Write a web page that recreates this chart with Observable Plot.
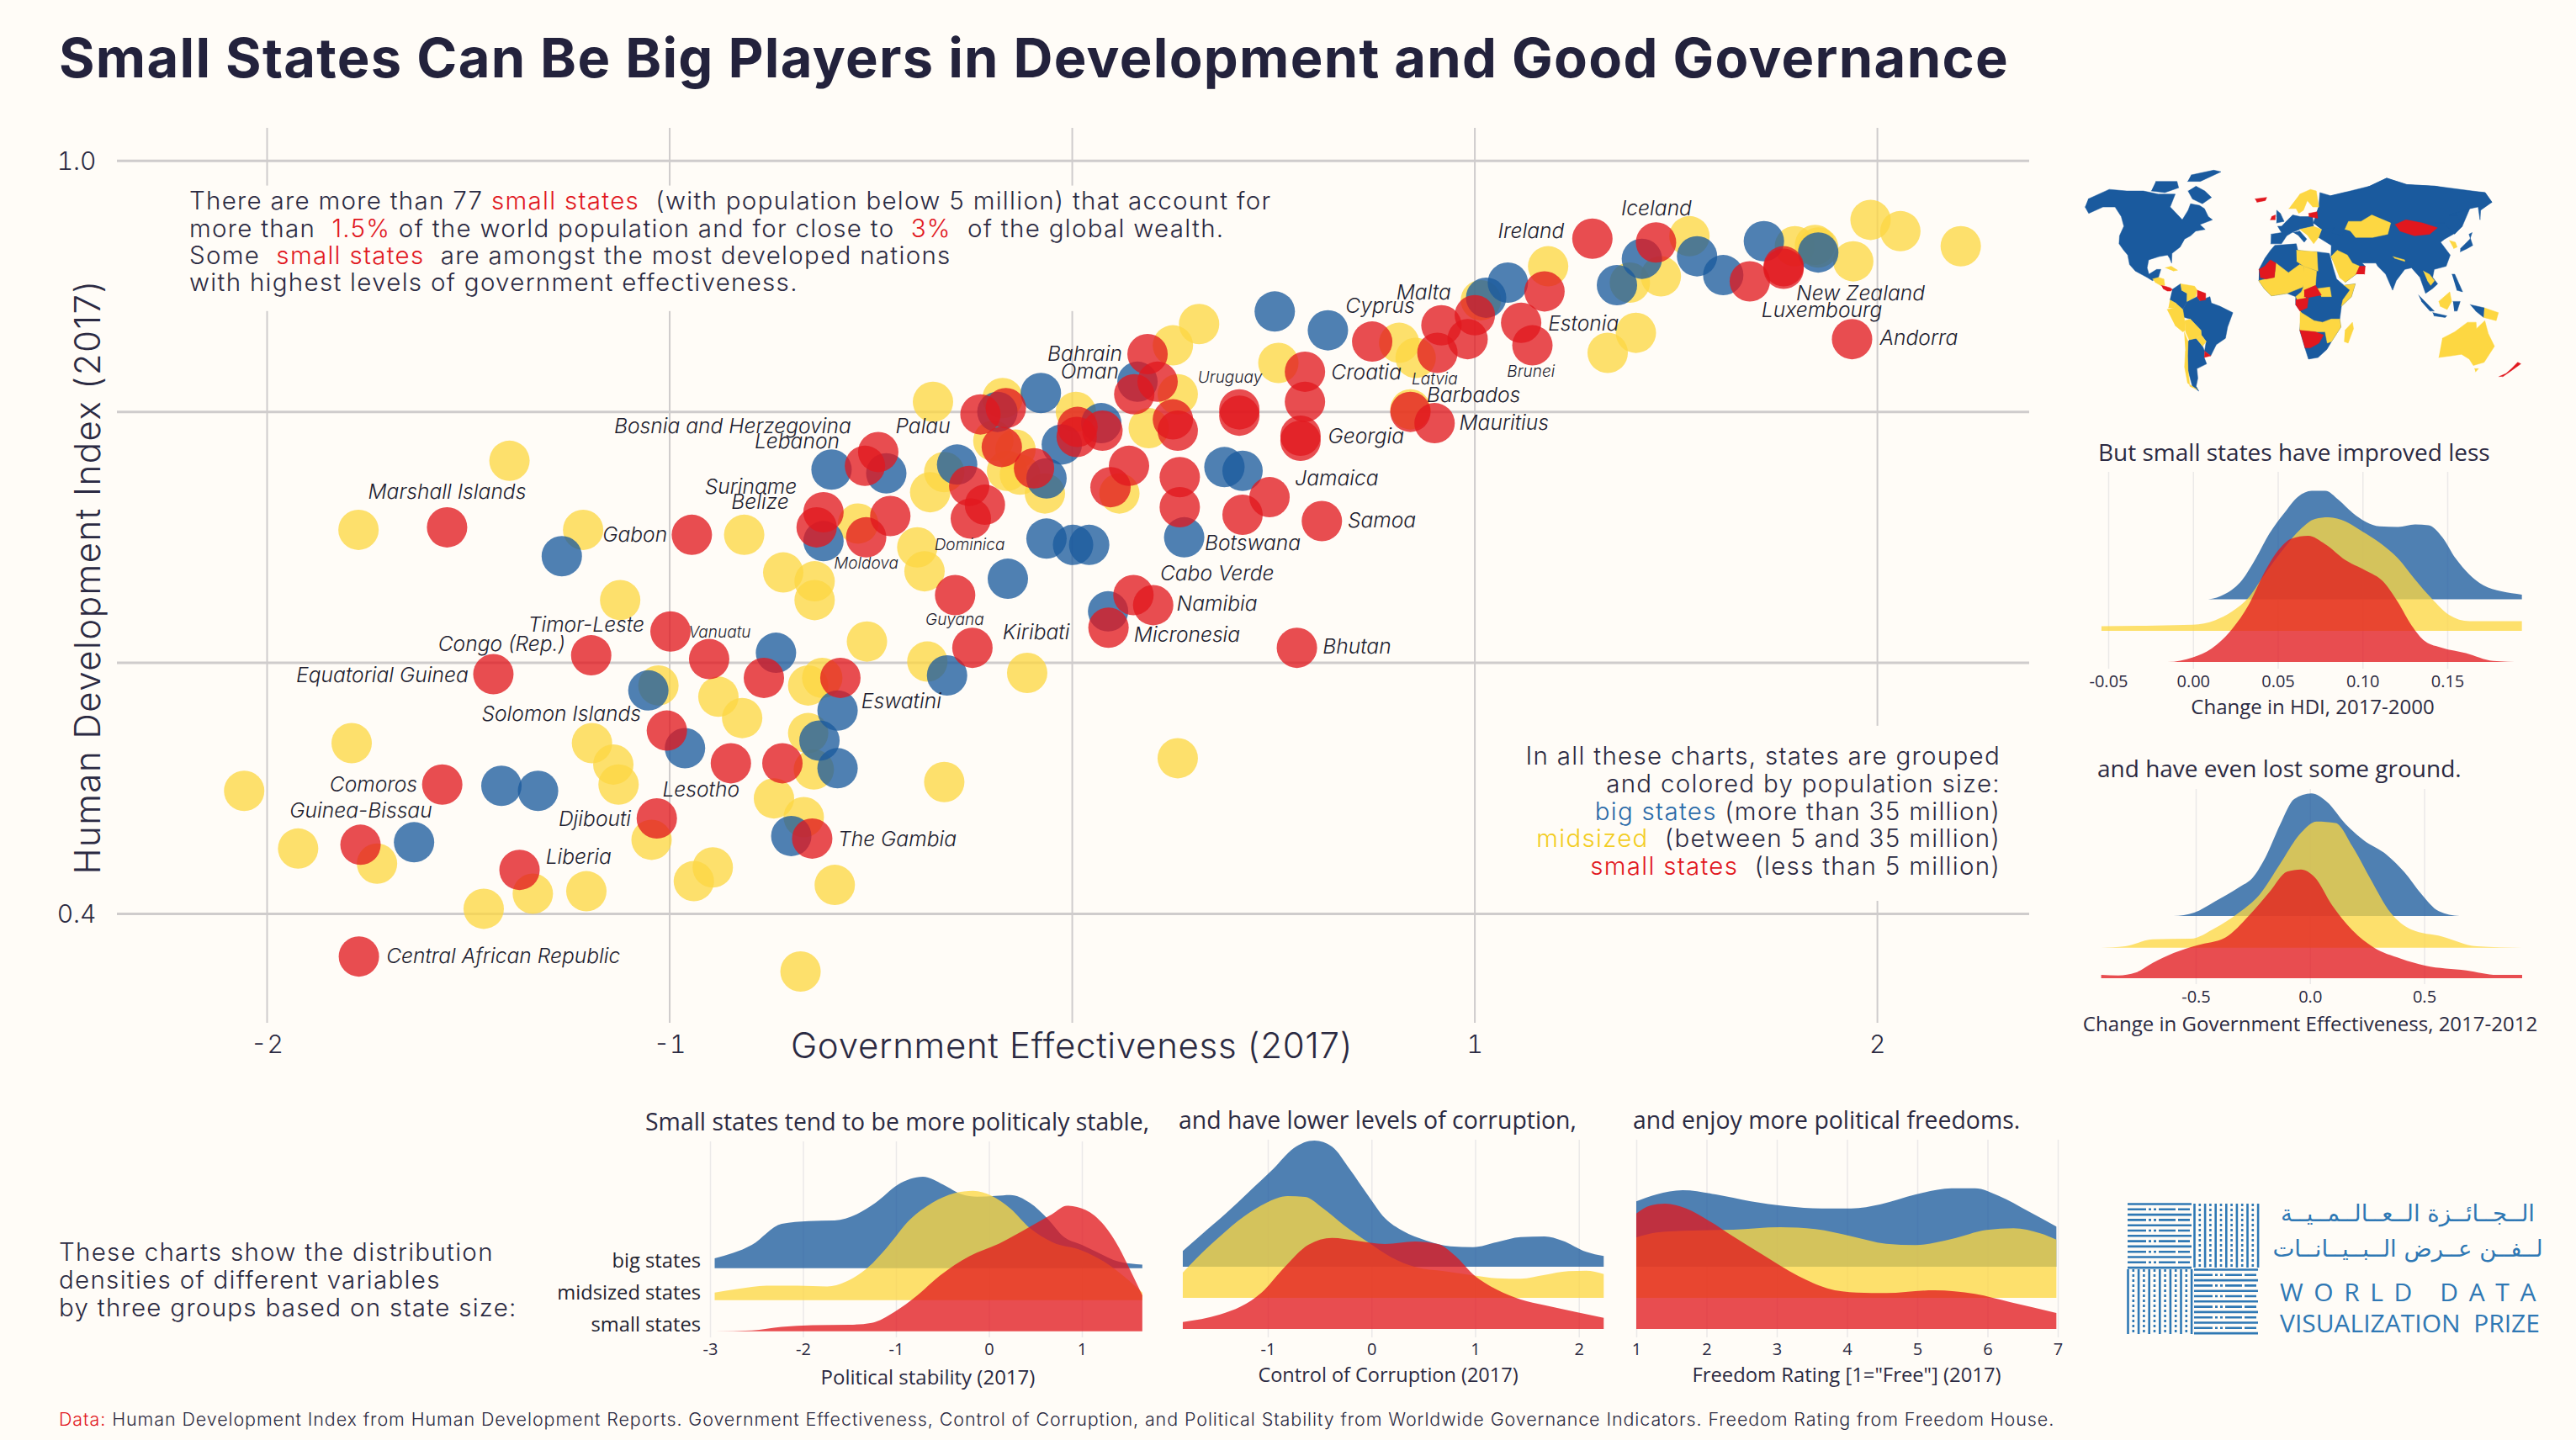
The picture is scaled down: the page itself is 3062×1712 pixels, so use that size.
<!DOCTYPE html>
<html><head><meta charset="utf-8">
<script src="https://cdn.jsdelivr.net/npm/d3@7"></script>
<script src="https://cdn.jsdelivr.net/npm/@observablehq/plot@0.6"></script>
<style>
html,body{margin:0;padding:0;background:#fffcf7;}
#page{position:relative;width:3062px;height:1712px;overflow:hidden;background:#fffcf7;}
.t{position:absolute;white-space:pre;line-height:1;}
.p{position:absolute;}
svg{overflow:visible;}
</style></head><body><div id="page"></div>
<script>
// ---------- Scatter values: Government Effectiveness (x), HDI (y) ----------
const midX=[-1.398,-1.773,-1.215,-.815,-.718,-.532,-.385,-.367,-.346,-.173,-.196,-.141,-.162,-.130,-.318,-.353,-.068,.009,.190,.117,-.64,-.64,-.510,-.360,-.879,-.820,-.656,-.621,-.656,-.642,-.741,-.667,-.318,-1.123,-1.028,-1.790,-1.193,-1.140,-1.127,-2.057,-1.923,-1.727,-1.045,-.893,-.940,-1.340,-1.207,-1.462,-.590,-.675,-.112,1.983,2.057,2.207,1.940,1.795,1.845,1.853,1.533,1.462,1.385,1.182,1.400,1.330,.812,.853,.315,.250,.512,.262,.840,1.015,.262];
const midY=[.761,.706,.706,.702,.672,.711,.692,.673,.808,.811,.777,.770,.753,.750,.752,.736,.735,.800,.787,.735,.665,.650,.617,.601,.573,.556,.582,.588,.544,.515,.492,.477,.505,.650,.582,.536,.536,.519,.503,.498,.452,.440,.459,.437,.426,.416,.418,.404,.423,.354,.592,.953,.944,.932,.920,.932,.933,.931,.940,.908,.903,.916,.863,.847,.855,.843,.870,.853,.839,.814,.802,.889,.524];
const bigX=[-1.268,-.598,-.462,-.618,-.186,-.286,-.078,-.026,.072,-.064,.162,-.064,.002,.042,-.160,.089,-.736,-.583,-.628,-.583,-.311,-.698,-1.053,-.962,-1.418,-1.327,-1.635,1.718,1.415,1.552,1.617,1.353,1.853,1.082,1.028,.503,.635,.378,.423,.278];
const bigY=[.685,.754,.751,.697,.800,.758,.815,.774,.791,.747,.824,.699,.694,.694,.667,.641,.608,.562,.538,.516,.590,.462,.578,.532,.502,.498,.457,.936,.922,.924,.909,.901,.927,.903,.891,.880,.865,.756,.753,.700];
const smallX=[-1.553,-.945,-.482,-.515,-.618,-.635,-.452,-.512,-.228,-.165,-.175,.013,.011,.075,.154,.141,.095,-.256,-.217,-.252,-.291,-.095,.152,.201,-.576,-.766,-.848,-.720,-.646,-.902,-.998,-1.195,-1.438,-.248,-1.007,-1.565,-1.032,-1.768,-1.373,-1.772,1.292,1.450,1.683,1.767,1.767,1.937,1.173,1.115,1.143,1.000,.982,.917,.907,.745,.187,.578,.578,.567,.567,.415,.415,.262,.250,.212,.840,.900,.267,.267,.423,.490,.620,.090,.558];
const smallY=[.708,.702,.768,.757,.720,.708,.717,.700,.798,.803,.772,.788,.780,.785,.814,.757,.740,.741,.726,.715,.654,.755,.654,.646,.588,.588,.520,.520,.460,.603,.625,.606,.591,.612,.546,.503,.476,.455,.435,.366,.938,.935,.904,.916,.914,.858,.896,.871,.853,.877,.858,.869,.847,.856,.846,.832,.808,.781,.777,.802,.797,.785,.794,.824,.800,.791,.748,.724,.718,.732,.713,.628,.612];
// ---------- Scatter labels ----------
const labelNames=["Iceland","Ireland","Malta","Cyprus","New Zealand","Luxembourg","Andorra","Estonia","Bahrain","Oman","Croatia","Barbados","Mauritius","Georgia","Jamaica","Samoa","Botswana","Cabo Verde","Namibia","Micronesia","Bhutan","Kiribati","Palau","Bosnia and Herzegovina","Lebanon","Suriname","Belize","Marshall Islands","Gabon","Timor-Leste","Congo (Rep.)","Equatorial Guinea","Eswatini","Solomon Islands","Comoros","Lesotho","Guinea-Bissau","Djibouti","The Gambia","Liberia","Central African Republic"];
const labelX=[1.451,1.222,.941,.851,1.798,1.712,2.006,1.182,.124,.116,.643,.880,.961,.635,.553,.684,.329,.218,.259,.153,.622,-.173,-.439,-.549,-.578,-.684,-.704,-1.553,-1.006,-1.063,-1.259,-1.5,-.524,-1.071,-1.627,-1.018,-1.590,-1.096,-.582,-1.308,-1.704];
const labelY=[.962,.944,.895,.884,.894,.881,.859,.870,.846,.832,.831,.813,.791,.780,.747,.713,.695,.671,.647,.622,.613,.624,.788,.788,.776,.740,.728,.736,.702,.630,.615,.590,.569,.559,.503,.499,.482,.475,.459,.445,.366];
const labelAnchor=["middle","end","end","end","start","start","start","start","end","end","start","start","start","start","start","start","start","start","start","start","start","start","start","end","end","end","end","middle","end","end","end","end","start","end","end","start","end","end","start","start","start"];
const tinyNames=["Uruguay","Latvia","Brunei","Vanuatu","Guyana","Dominica","Moldova"];
const tinyX=[.312,.843,1.080,-.953,-.292,-.255,-.512];
const tinyY=[.827,.826,.832,.624,.634,.694,.679];
const tinyAnchor=["start","start","start","start","middle","middle","middle"];
// ---------- Density ridges: x value, height ----------
const stabBigX=[-2.95,-2.55,-2.23,-1.94,-1.66,-1.42,-1.22,-.98,-.71,-.49,-.29,-.13,.07,.23,.44,.64,.80,1.0,1.16,1.40,1.65];
const stabBigH=[11.7,27.7,52.7,56,56.7,64.3,77.7,99.3,108.7,99.3,87.7,85,86,87,77.7,57.7,37.7,27.7,19.3,7.7,4.3];
const stabMidX=[-2.95,-2.71,-2.39,-2.06,-1.74,-1.50,-1.30,-1.10,-.85,-.61,-.37,-.17,.03,.23,.44,.68,1.0,1.24,1.48,1.65];
const stabMidH=[9,13.3,17.3,17.3,16.3,24,39,62.3,95.7,115.7,127.3,130,124,109,85.7,69,59,45.7,25.7,9];
const stabSmallX=[-2.95,-2.55,-2.23,-1.90,-1.50,-1.26,-1.02,-.77,-.53,-.21,.11,.44,.68,.84,1.04,1.24,1.40,1.52,1.65];
const stabSmallH=[0,1,5.3,7.3,7.7,10,22.7,42.7,66,89.3,104.3,124.3,139.3,149.3,144.3,126,99.3,72.7,42.7];
const corrBigX=[-1.82,-1.63,-1.41,-1.18,-.95,-.75,-.55,-.38,-.21,-.04,.13,.30,.53,.76,.98,1.21,1.44,1.67,1.84,2.07,2.24];
const corrBigH=[18.7,39.3,62.7,89.3,116,141,150,142.7,116,86,57.7,42.7,31,24.3,23.3,29.3,35.3,36,31,17.7,12.7];
const corrMidX=[-1.82,-1.69,-1.46,-1.23,-1.01,-.81,-.64,-.47,-.27,-.04,.19,.42,.70,.98,1.21,1.44,1.67,1.90,2.07,2.24];
const corrMidH=[30,46.7,73.3,96.7,113.3,121,120,106.7,86.7,66.7,48.3,36.7,31.7,26.7,23.3,22.7,27.3,31.7,32.3,28.3];
const corrSmallX=[-1.82,-1.46,-1.26,-1.06,-.84,-.61,-.38,-.15,.13,.42,.64,.81,.98,1.21,1.44,1.67,1.95,2.24];
const corrSmallH=[8.3,17.3,26.7,43.3,73.3,100,108.3,105,101,104,101,86.7,65,46.7,35,28.3,20.7,13.3];
const freeBigX=[1,1.29,1.66,2.13,2.63,3.13,3.64,4.06,4.48,4.98,5.49,5.82,6.16,6.58,6.98];
const freeBigH=[77.7,86,91,86,77.7,72,69.3,69.3,74.3,86,93.3,93.3,84.3,66,47.7];
const freeMidX=[1,1.29,1.79,2.38,3.05,3.55,4.06,4.56,4.98,5.49,5.99,6.37,6.75,6.98];
const freeMidH=[71.7,77.7,80,81,84,81.7,73.3,64.3,62.7,70,80.7,82.7,76.7,69.3];
const freeSmallX=[1,1.20,1.41,1.71,2.04,2.38,2.80,3.30,3.72,4.14,4.56,5.24,5.82,6.33,6.98];
const freeSmallH=[137.3,146.7,149,143.3,128.3,110,88.3,63.3,48.3,43.3,42.7,46,41.7,31.7,19];
const hdiBigX=[-.054,.009,.019,.029,.037,.045,.054,.062,.070,.078,.086,.094,.102,.110,.121,.131,.139,.147,.155,.163,.171,.182,.194];
const hdiBigH=[0,0,6.3,23,48.4,77.8,103,122,129,129,118,103,92,86.7,86,89,88,74,48.4,29.5,16.8,9.3,5.5];
const hdiMidX=[-.054,-.022,0,.013,.023,.033,.043,.054,.064,.072,.080,.090,.100,.110,.121,.131,.141,.151,.163,.194];
const hdiMidH=[5.5,6.3,7.2,12.6,23,40,69.4,99,122,133,135,130,118,105,86,61,38,19,11.4,11.4];
const hdiSmallX=[-.054,-.015,0,.011,.023,.033,.041,.050,.058,.068,.078,.090,.102,.112,.121,.129,.137,.147,.161,.177,.194];
const hdiSmallH=[0,0,5.5,16,39,68.5,102,132,146.6,150,140,121,108.6,96,70.7,43.3,24.4,16.8,10.5,1.3,0];
const geBigX=[-.914,-.597,-.507,-.416,-.311,-.25,-.19,-.13,-.069,.006,.074,.157,.232,.338,.413,.489,.564,.655,.929];
const geBigH=[0,0,4,17.3,34,45.7,72.3,109,139,145.7,135.7,109,90.7,72.3,52.3,25.7,5.7,0,0];
const geMidX=[-.914,-.808,-.688,-.522,-.416,-.311,-.22,-.13,-.039,.029,.112,.187,.262,.353,.443,.579,.73,.929];
const geMidH=[0,1.7,10,10.7,23.3,41.7,63.3,100,136.7,150,148.3,120,83.3,41.7,21.7,13.3,1.7,0];
const geSmallX=[-.914,-.839,-.763,-.688,-.597,-.492,-.371,-.265,-.175,-.1,-.039,.021,.097,.187,.278,.398,.504,.685,.82,.929];
const geSmallH=[4,3.3,6.7,18.3,30,39.3,48.3,75,103.3,126.7,129.3,120,86.7,56.7,36.7,23.3,15,9.3,4,4];
// ---------- Simplified world map: lon,lat rings by state-size group ----------
const mapBig=[
[-17,21,-13,28,-9,33,-6,36,10,37,11,33,20,32,25,32,34,31,36,22,38,15,43,11,51,12,48,4,41,-2,40,-10,41,-15,35,-24,32,-29,26,-34,19,-35,16,-28,12,-17,13,-6,9,-1,9,4,3,6,-8,4.5,-13,9,-17,14],
[30,46,27,41,36,36,35,29,44,13,52,18,59,23,57,25,67,25,68,23,73,18,77,8,80,14,87,21,92,22,97,16,100,6,105,9,109,12,106,16,108,21,117,23,122,30,118,38,122,40,130,43,140,48,155,59,178,63,180,69,140,73,115,74,100,78,80,73,42,67,30,60,24,50],
[-168,65,-157,71,-140,70,-125,70,-110,68,-95,68,-94,60,-85,55,-80,52,-78,58,-78,62,-70,61,-65,59,-60,54,-56,52,-65,49,-60,46,-67,45,-70,42,-74,40,-76,35,-81,31,-80,25,-82,28,-84,30,-90,29,-97,27,-97,22,-95,18,-90,21,-87,21,-88,16,-92,14,-96,16,-105,20,-110,24,-113,30,-117,33,-122,37,-124,42,-124,48,-130,54,-140,60,-150,60,-158,56,-165,60],
[-80,73,-70,70,-62,66,-68,62,-78,65,-85,70],[-120,76,-100,76,-95,72,-105,69,-118,70],[-90,80,-70,83,-62,82,-78,76,-90,76],
[-77.5,8.5,-72,12,-71,8,-67,6,-67,1,-70,-4,-75,0,-79,2],
[-70,-4,-67,1,-60,4,-58,1.5,-51,4,-50,0,-44,-2,-35,-6,-39,-15,-41,-22,-48,-26,-53,-33,-57,-30,-55,-24,-58,-20,-58,-17,-65,-10,-73,-8],
[-67,-23,-62,-22,-58,-27,-57,-30,-58,-34,-57,-38,-65,-41,-66,-47,-69,-52,-68,-55,-72,-52,-72,-42,-70,-33,-68,-24],
[-5,50,1,51,-2,56,-5,58,-5,54],
[-9,37,-1,37,3,42,7,44,13,46,24,48,24,54,14,54,8,55,4,52,-1,48,-4,48,-1,44,-9,43],[8,44,13,45,18,40,16,38,12,42],
[30,46,40,47,37,44,45,42,48,46,52,51,62,51,72,55,85,50,98,50,110,50,120,50,127,50,131,43,140,48,141,55,135,55,155,59,163,60,157,52,163,58,178,63,180,69,160,70,140,73,115,74,100,78,80,73,68,70,55,69,42,67,33,69,30,60,28,57,28,53,24,50],
[130,32,136,34,141,36,142,43,145,44,141,40,136,37,131,34],[95,5,106,-5,103,-5,97,1],[105,-6,115,-8,114,-9,106,-8],[120,18,122,18,126,7,122,8],[131,-1,141,-3,141,-9,135,-5],[119,1,124,1,122,-5,120,-5]];
const mapMid=[
[-92,15,-88,16,-84,15,-83,11,-86,11,-90,13],[-84,22,-80,23,-75,20.5,-78,20],
[-72,12,-62,10.5,-60,8,-61,4,-67,1,-67,6,-71,8],[-79,2,-75,0,-76,-3,-80,-3],[-81,-4,-76,-3,-75,0,-70,-4,-69,-11,-69,-17,-71,-18,-76,-14],
[-69,-11,-65,-10,-58,-17,-58,-20,-62,-22,-67,-23,-69,-18],[-62,-22,-58,-20,-55,-24,-58,-27],[-70,-18,-68,-24,-70,-33,-72,-42,-74,-52,-69,-54,-75,-50,-74,-40,-71,-30],
[10,33,25,32,25,20,15,23,10,26],[-5,25,4,19,12,24,15,23,15,13,14,10,3,6,-8,4.5,-13,9,-17,14,-12,15,-6,16],[15,23,24,20,23,11,15,8,14,12],
[9,4,13,7,15,11,16,3,10,2],[24,9,33,10,34,4,27,4],[43,11,51,12,48,4,41,-2,42,2,47,8],
[12,-5,13,-6,22,-11,28,-12,34,-10,40,-10,41,-15,35,-24,32,-25,30,-18,23,-18,12,-17],[44,-17,49,-12,50,-16,47,-25,44,-24],
[5,59,11,59,13,56,17,58,21,64,25,60,30,60,30,70,25,71,15,68],[13,46,24,48,30,46,27,41,23,37,19,42],
[48,46,52,51,62,51,72,55,85,50,80,43,68,41,55,41,52,45],[35,29,40,33,47,30,50,25,55,23,52,18,44,13,40,16],
[80,29,88,27,88,26,81,28],[100,20,104,18,107,14,104,11,102,14],[125,39,129,38,129,35,126,34],[109,1,117,7,118,1,115,-4,110,-2],
[141,-3,151,-6,150,-11,141,-9],[114,-22,122,-18,130,-12,136,-12,137,-16,142,-11,146,-19,153,-27,150,-37,143,-39,138,-35,131,-32,124,-33,115,-34],[145,-41,148,-41,147,-43]];
const mapSmall=[
[-85.5,11,-83,10.5,-79,9.5,-77.5,8.5,-78.5,7.5,-81,7.5,-84,9],[-60,8,-54,6,-54,2,-58,1.5,-60,4],[-58,-34,-53,-33,-57,-30],
[-17,21,-13,23,-9,27,-5,25,-6,16,-12,15,-16,16],[15,8,23,11,27,5,18,3.5,15,4],[9,2,16,3,18,3.5,17,-3,12,-5,9,-1],
[12,-17,23,-18,29,-20,26,-25,20,-28,16,-28],[-10,52,-6,52,-6,55,-9,54],[-24,65,-14,66,-15,64,-22,63],[21,54,28,53,28,57,21,56],
[88,49,98,52,110,50,120,47,112,43,100,42,90,45],[52,18,55,23,59,23,58,18],[167,-46,171,-44,173,-41,175,-37,178,-38,174,-42,170,-46]];
// ---------- Palette ----------
const BIG="#1a5a9e",MID="#fdd742",SMALL="#e1171e",ALPHA=0.77,BG="#fffcf7",INK="#2b2a42";
const SERIF="Inter, sans-serif", OPEN="'Open Sans', sans-serif";
const page=document.getElementById("page");
function put(html,x,y,o={}){
  const d=document.createElement("div");d.className="t";d.innerHTML=html;
  const tx={left:"0",right:"-100%",center:"-50%"}[o.align||"left"];
  d.style.cssText+=`left:${x}px;top:${y}px;font-family:${o.font||SERIF};font-size:${o.size||28}px;font-weight:${o.weight||300};color:${o.color||INK};letter-spacing:${o.ls||0}px;transform:translate(${tx},-50%) ${o.rotate?`rotate(${o.rotate}deg)`:""};`;
  page.appendChild(d);
}
function mount(svg,left,top){
  const w=document.createElement("div");w.className="p";w.style.left=left+"px";w.style.top=top+"px";w.appendChild(svg);page.appendChild(w);
}
const plotStyle={background:"transparent",maxWidth:"none",overflow:"visible"};
const rows=(xs,ys)=>xs.map((x,i)=>({x,y:ys[i]}));
const lab=(names,xs,ys,an)=>names.map((n,i)=>({n,x:xs[i],y:ys[i],a:an[i]}));
// ---------- Main scatter ----------
const allLabels=lab(labelNames,labelX,labelY,labelAnchor), smallLabels=lab(tinyNames,tinyX,tinyY,tinyAnchor);
const textMarks=[];
for(const a of ["start","middle","end"]){
  textMarks.push(Plot.text(allLabels.filter(d=>d.a===a),{x:"x",y:"y",text:"n",textAnchor:a,fontSize:24.6,fontStyle:"italic",fontWeight:300,fill:"#1e1e30",fontFamily:SERIF}));
  textMarks.push(Plot.text(smallLabels.filter(d=>d.a===a),{x:"x",y:"y",text:"n",textAnchor:a,fontSize:19,fontStyle:"italic",fontWeight:300,fill:"#1e1e30",fontFamily:SERIF}));
}
const dots=(xs,ys,c)=>Plot.dot(rows(xs,ys),{x:"x",y:"y",r:24,fill:c,fillOpacity:ALPHA,stroke:"none"});
mount(Plot.plot({
  width:3062,height:1280,marginLeft:139,marginRight:650,marginTop:152,marginBottom:64,
  style:{...plotStyle,fontFamily:SERIF},
  x:{domain:[-2.372,2.378]},y:{domain:[.3128,1.026]},
  marks:[
    Plot.ruleX([-2,-1,0,1,2],{stroke:"#cfcccc",strokeWidth:2}),
    Plot.rect([{x1:-2.1,x2:.5,y1:.88,y2:.98},{x1:1.08,x2:2.35,y1:.41,y2:.5495}],{x1:"x1",x2:"x2",y1:"y1",y2:"y2",fill:BG}),
    Plot.ruleY([.4,.6,.8,1],{stroke:"#cfcccc",strokeWidth:3}),
    Plot.axisX({ticks:[-2,-1,1,2],tickSize:0,tickPadding:14,fontSize:30,fontWeight:300,label:null,tickFormat:d=>String(d),stroke:"none",fill:INK}),
    Plot.axisY({ticks:[.4,1],tickSize:0,tickPadding:25,fontSize:30,fontWeight:300,label:null,tickFormat:d=>d.toFixed(1),fill:INK,dy:1}),
    dots(midX,midY,MID),dots(bigX,bigY,BIG),dots(smallX,smallY,SMALL),
    ...textMarks
  ]}),0,0);
// ---------- Ridges ----------
function ridge(c){
  const H=c.bottom-c.top, H2=H+60;
  const series=[[c.big,BIG,c.baseBig],[c.mid,MID,c.baseMid],[c.small,SMALL,c.baseSmall]];
  mount(Plot.plot({
    width:c.width,height:H2,marginLeft:0,marginRight:0,marginTop:0,marginBottom:60,
    style:{...plotStyle,fontFamily:OPEN},
    x:{domain:c.domain,range:c.range},y:{domain:[0,H],range:[H,0],axis:null},
    marks:[
      Plot.ruleX(c.grid,{stroke:"#ebe9e8",strokeWidth:1.5}),
      ...series.map(([s,col,base])=>Plot.areaY(rows(s[0],s[1]),{x:"x",y1:()=>c.bottom-base,y2:d=>c.bottom-base+d.y,fill:col,fillOpacity:ALPHA,curve:"monotone-x"})),
      Plot.axisX({ticks:c.ticks,tickSize:0,tickPadding:c.pad,fontSize:c.tickSize,label:null,tickFormat:c.fmt,fill:INK})
    ]}),c.left,c.top);
}
const fmt0=d=>String(d);
ridge({left:820,width:560,top:1357,bottom:1590,domain:[-3,1],range:[24,466],grid:[-3,-2,-1,0,1],ticks:[-3,-2,-1,0,1],pad:6,tickSize:20,fmt:fmt0,baseBig:1507.7,baseMid:1545.7,baseSmall:1582.7,big:[stabBigX,stabBigH],mid:[stabMidX,stabMidH],small:[stabSmallX,stabSmallH]});
ridge({left:1390,width:530,top:1355,bottom:1590,domain:[-1,2],range:[117,486.7],grid:[-1,0,1,2],ticks:[-1,0,1,2],pad:6,tickSize:20,fmt:fmt0,baseBig:1506,baseMid:1543,baseSmall:1580,big:[corrBigX,corrBigH],mid:[corrMidX,corrMidH],small:[corrSmallX,corrSmallH]});
ridge({left:1930,width:530,top:1355,bottom:1590,domain:[1,7],range:[15,516],grid:[1,2,3,4,5,6,7],ticks:[1,2,3,4,5,6,7],pad:6,tickSize:20,fmt:fmt0,baseBig:1506,baseMid:1543,baseSmall:1580,big:[freeBigX,freeBigH],mid:[freeMidX,freeMidH],small:[freeSmallX,freeSmallH]});
ridge({left:2480,width:540,top:561,bottom:795,domain:[-.05,.15],range:[26,429],grid:[-.05,0,.05,.1,.15],ticks:[-.05,0,.05,.1,.15],pad:7,tickSize:20,fmt:d=>d.toFixed(2),baseBig:712.4,baseMid:750,baseSmall:787,big:[hdiBigX,hdiBigH],mid:[hdiMidX,hdiMidH],small:[hdiSmallX,hdiSmallH]});
ridge({left:2480,width:540,top:938,bottom:1170,domain:[-.5,.5],range:[130,401.5],grid:[-.5,0,.5],ticks:[-.5,0,.5],pad:7,tickSize:20,fmt:d=>d.toFixed(1),baseBig:1089,baseMid:1126.7,baseSmall:1163,big:[geBigX,geBigH],mid:[geMidX,geMidH],small:[geSmallX,geSmallH]});
// ---------- Map (pseudocylindrical narrowing toward the poles) ----------
const ringRows=list=>list.flatMap((r,k)=>d3.range(0,r.length,2).map(i=>({k,x:r[i]*(1-0.000045*r[i+1]*r[i+1]),y:r[i+1]})));
mount(Plot.plot({
  width:612,height:276,margin:0,style:plotStyle,
  x:{domain:[-180,180],axis:null},y:{domain:[-60,85],axis:null},
  marks:[[mapBig,BIG],[mapMid,MID],[mapSmall,SMALL]].map(([l,c])=>Plot.line(ringRows(l),{x:"x",y:"y",z:"k",fill:c,stroke:c,strokeWidth:.5,curve:"linear"}))
}),2407,198);
// ---------- Logo ----------
const LOGO="#2f78b4";
const solidRows=[0,12.6,25.2,37.8,50.4,63,75.6], brokenRows=[6.3,18.9,31.5,44.1,56.7,69.3];
const dash="22 3 3 3 3 3 20 3 14 3 3 3";
const hz=(ys,x1,x2,off,d)=>Plot.ruleY(ys.map(y=>y+off),{x1,x2,stroke:LOGO,strokeWidth:2.6,strokeDasharray:d});
const vt=(xs,y1,y2,off,d)=>Plot.ruleX(xs.map(x=>x+off),{y1,y2,stroke:LOGO,strokeWidth:2.6,strokeDasharray:d});
mount(Plot.plot({
  width:156,height:156,margin:0,style:plotStyle,
  x:{domain:[0,156],range:[0,156],axis:null},y:{domain:[0,156],range:[0,156],axis:null},
  marks:[
    hz(solidRows,0,76,0,null),hz(brokenRows,0,76,0,dash),
    hz(solidRows,79,155,78,null),hz(brokenRows,79,155,78,dash),
    vt(solidRows,0,76,79,null),vt(brokenRows,0,76,79,"3 3"),
    vt(solidRows,78,155,0,null),vt(brokenRows,78,155,0,"3 3")
  ]}),2529,1431);
// ---------- Text ----------
const R=s=>`<span style="color:#e1171e">${s}</span>`;
const prose={size:29.5,ls:1.3};
put("Small States Can Be Big Players in Development and Good Governance",70,68,{size:65,weight:700,color:"#23223c",ls:1.3});
[
 `There are more than 77 ${R("small states")}  (with population below 5 million) that account for`,
 `more than  ${R("1.5%")} of the world population and for close to  ${R("3%")}  of the global wealth.`,
 `Some  ${R("small states")}  are amongst the most developed nations`,
 `with highest levels of government effectiveness.`
].forEach((s,i)=>put(s,225,[239,272,304,336][i],prose));
[
 `In all these charts, states are grouped`,`and colored by population size:`,
 `<span style="color:#2a6aa8">big states</span> (more than 35 million)`,
 `<span style="color:#f3cd22">midsized</span>  (between 5 and 35 million)`,
 `${R("small states")}  (less than 5 million)`
].forEach((s,i)=>put(s,2378,[899,932,965,997,1030][i],{...prose,align:"right"}));
put("Government Effectiveness (2017)",1274,1243,{size:42,ls:.7,align:"center"});
put("Human Development Index (2017)",104,686,{size:42,ls:1.5,align:"center",rotate:-90});
["These charts show the distribution","densities of different variables","by three groups based on state size:"].forEach((s,i)=>put(s,70,[1489,1522,1555][i],prose));
["big states","midsized states","small states"].forEach((s,i)=>put(s,833,[1499,1537,1575][i],{font:OPEN,size:23.7,weight:400,align:"right",color:"#22222f"}));
put("Small states tend to be more politicaly stable,",1366,1333,{font:OPEN,size:28.4,weight:400,align:"right"});
put("and have lower levels of corruption,",1401,1331,{font:OPEN,size:28.4,weight:400});
put("and enjoy more political freedoms.",1941,1331,{font:OPEN,size:28.4,weight:400});
put("Political stability (2017)",1103,1637,{font:OPEN,size:24,weight:400,align:"center"});
put("Control of Corruption (2017)",1650,1635,{font:OPEN,size:23.5,weight:400,align:"center"});
put('Freedom Rating [1="Free"] (2017)',2195,1635,{font:OPEN,size:23.8,weight:400,align:"center"});
put("But small states have improved less",2494,537,{font:OPEN,size:28,weight:400});
put("Change in HDI, 2017-2000",2749,840,{font:OPEN,size:24,weight:400,align:"center"});
put("and have even lost some ground.",2493,913,{font:OPEN,size:28,weight:400});
put("Change in Government Effectiveness, 2017-2012",2746,1217,{font:OPEN,size:24,weight:400,align:"center"});
put(`${R("Data:")} Human Development Index from Human Development Reports. Government Effectiveness, Control of Corruption, and Political Stability from Worldwide Governance Indicators. Freedom Rating from Freedom House.`,70,1688,{size:21.5,ls:.9});
put("الــجــائــزة الــعــالــمــيــة",2862,1443,{font:"'DejaVu Sans', sans-serif",size:27.5,weight:400,align:"center",color:LOGO});
put("لــفــن عــرض الــبــيــانــات",2862,1485,{font:"'DejaVu Sans', sans-serif",size:27.5,weight:400,align:"center",color:LOGO});
put("WORLD DATA",2710,1536,{font:OPEN,size:30,weight:400,color:LOGO,ls:12.6});
put("VISUALIZATION  PRIZE",2710,1573,{font:OPEN,size:30,weight:400,color:LOGO});
</script></body></html>
